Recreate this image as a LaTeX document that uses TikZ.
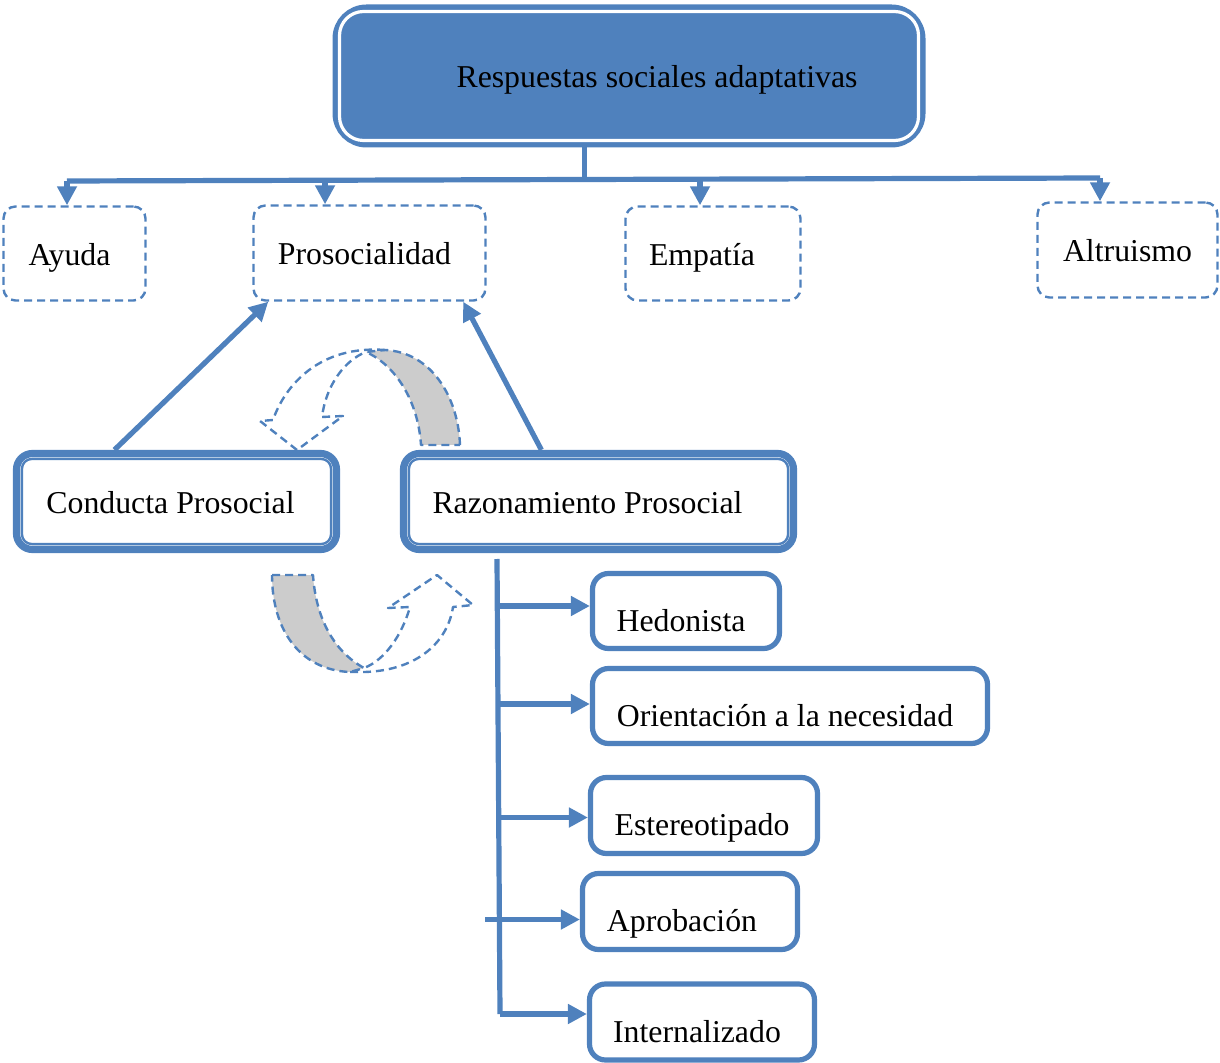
\documentclass[tikz,border=0pt]{standalone}
\usepackage{fontspec}
\setmainfont{Liberation Serif}
\usetikzlibrary{arrows.meta,calc}
\definecolor{ofblue}{HTML}{4F81BD}
\definecolor{ofgray}{HTML}{CCCCCC}
\tikzset{
  dashbox/.style={draw=ofblue,line width=1.2pt,dash pattern=on 4pt off 2.5pt,rounded corners=6pt,fill=white,text height=15pt,text depth=3.4pt},
  dblbox/.style={draw=ofblue,line width=3.6pt,rounded corners=8pt,fill=white,text height=15pt,text depth=3.4pt},
  innerline/.style={draw=ofblue,line width=1.2pt,rounded corners=5pt},
  subbox/.style={draw=ofblue,line width=2.6pt,rounded corners=8pt,fill=white,text height=23pt,text depth=3pt},
  conn/.style={draw=ofblue,line width=2.6pt},
  tip/.style={conn,-{Triangle[length=9.5pt,width=9.5pt]}},
  band/.style={draw=ofblue,line width=1.2pt,dash pattern=on 4pt off 2.5pt,line join=round}
}
\begin{document}
\begin{tikzpicture}[x=0.5pt,y=-0.5pt,font=\fontsize{15.9}{19}\selectfont]
    \useasboundingbox (0,0) rectangle (1220,1063);

    \node[draw=ofblue,fill=ofblue,line width=4pt,rounded corners=15pt,minimum width=292.5pt,minimum height=67.5pt,text height=15pt,text depth=3.4pt] (top) at (629,76) {\hspace*{28pt}Respuestas sociales adaptativas};
    \draw[white,line width=1.6pt,rounded corners=12pt] ([shift={(7,7)}]top.north west) rectangle ([shift={(-7,-7)}]top.south east);

    \node[dashbox,minimum width=71pt,minimum height=47pt] (ayuda) at (74.5,253.5) {\hspace*{-5pt}Ayuda};
    \node[dashbox,minimum width=116pt,minimum height=47.5pt] (proso) at (369.5,253) {\hspace*{-5pt}Prosocialidad};
    \node[dashbox,minimum width=87.5pt,minimum height=47pt] (empat) at (713,253.5) {\hspace*{-11pt}Empatía};
    \node[dashbox,minimum width=90pt,minimum height=47.5pt] (altru) at (1127.5,250) {Altruismo};

    \coordinate (busL) at (67,181);
    \coordinate (busR) at (1100,178);
    \coordinate (busM) at ($(busL)!0.5006!(busR)$);
    \coordinate (busP) at ($(busL)!0.2498!(busR)$);
    \coordinate (busE) at ($(busL)!0.6128!(busR)$);
    \draw[conn] (top.south -| busM) -- (busM);
    \draw[conn] (busL) -- (busR);
    \draw[tip] (busL) -- (ayuda.north -| busL);
    \draw[tip] (busP) -- (proso.north -| busP);
    \draw[tip] (busE) -- (empat.north -| busE);
    \draw[tip] (busR) -- (altru.north -| busR);

    % curved arrows
    \draw[band,fill=ofgray] (460,445) .. controls (458,395) and (430,352) .. (385,350) -- (366,352)
        .. controls (395,365) and (418,400) .. (421,445) -- cycle;
    \draw[band] (385,350) .. controls (320,345) and (285,385) .. (273,420) -- (260,421) -- (297,450)
        -- (343,416) -- (322,417) .. controls (326,385) and (345,360) .. (366,352);
    \draw[band,fill=ofgray] (272,575) -- (313,575) .. controls (316,620) and (335,652) .. (364,668)
        -- (350,672) .. controls (300,670) and (272,630) .. cycle;
    \draw[band] (350,672) -- (365,672) .. controls (420,670) and (448,640) .. (453,607) -- (473,605)
        -- (437,575) -- (388,608) -- (410,607) .. controls (402,635) and (385,660) .. (364,668);

    \node[dblbox,minimum width=160pt,minimum height=48pt] (cond) at (176.5,501.5) {\hspace*{-6pt}Conducta Prosocial};
    \path[innerline] ([shift={(9,9)}]cond.north west) rectangle ([shift={(-9,-9)}]cond.south east);
    \node[dblbox,minimum width=195pt,minimum height=48pt] (razon) at (598.5,501.5) {\hspace*{-11pt}Razonamiento Prosocial};
    \path[innerline] ([shift={(9,9)}]razon.north west) rectangle ([shift={(-9,-9)}]razon.south east);

    \draw[tip] ([xshift=50.75pt]cond.north west) -- ([xshift=8pt]proso.south west);
    \draw[tip] ([xshift=70.75pt]razon.north west) -- ([xshift=-11.75pt]proso.south east);

    \node[subbox,minimum width=93.5pt,minimum height=37.5pt] (hedo) at (686,611) {\hspace*{-5pt}Hedonista};
    \node[subbox,minimum width=197.5pt,minimum height=37.5pt] (orien) at (790,706) {\hspace*{-5pt}Orientación a la necesidad};
    \node[subbox,minimum width=113.5pt,minimum height=38pt] (ester) at (704,815.5) {\hspace*{-2pt}Estereotipado};
    \node[subbox,minimum width=107.5pt,minimum height=38pt] (apro) at (690,911.5) {\hspace*{-8pt}Aprobación};
    \node[subbox,minimum width=112.5pt,minimum height=38pt] (inte) at (702,1022) {\hspace*{-5pt}Internalizado};

    \coordinate (vTop) at (497,559);
    \coordinate (vBot) at (500,1014);
    \draw[conn] (vTop) -- (vBot);
    \draw[tip] ([yshift=2.5pt]vTop |- hedo.west) -- ([yshift=2.5pt]hedo.west);
    \draw[tip] ([yshift=1pt]vTop |- orien.west) -- ([yshift=1pt]orien.west);
    \draw[tip] ([yshift=-1pt]vTop |- ester.west) -- ([yshift=-1pt]ester.west);
    \draw[tip] ([xshift=-6pt,yshift=-4pt]vTop |- apro.west) -- ([yshift=-4pt]apro.west);
    \draw[tip] (vBot) -- (vBot -| inte.west);
\end{tikzpicture}
\end{document}
